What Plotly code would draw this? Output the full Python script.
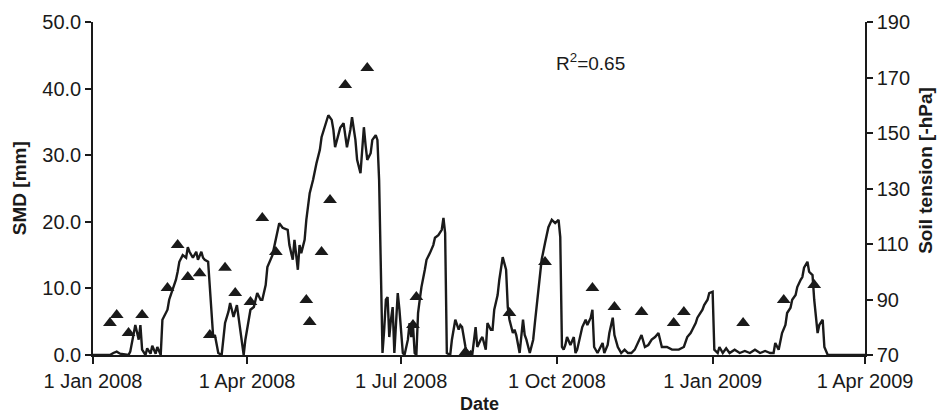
import pandas as pd
import plotly.graph_objects as go

# SMD line: day offset since 1 Jan 2008, SMD [mm]
smd_day = [0,10,12,14,16,21,22,24,25,27,28,29,31,32,34,35,37,38,40,41,44,45,47,49,50,51,53,55,56,57,59,61,62,64,65,66,68,69,70,71,72,73,74,76,77,78,80,81,82,83,85,86,87,89,90,92,93,95,96,97,99,100,102,103,106,108,109,110,112,115,116,118,119,121,122,123,125,126,128,130,132,134,135,137,139,141,142,143,145,146,148,149,150,152,153,155,156,158,159,160,161,162,164,165,167,168,169,170,171,172,173,174,175,176,177,178,180,181,183,184,186,187,188,189,190,191,192,193,194,196,197,199,201,202,204,206,207,208,209,211,212,214,216,217,218,220,221,223,224,226,227,229,230,232,233,235,236,237,239,240,242,244,245,246,248,249,250,252,254,255,256,258,260,261,263,264,265,267,269,271,273,275,276,277,278,279,280,282,284,285,286,289,291,292,294,295,296,298,299,301,302,304,305,307,308,310,312,314,316,318,320,322,324,326,328,330,332,334,336,339,342,346,349,351,353,354,356,357,360,361,363,364,366,367,369,370,372,374,376,379,382,385,388,391,394,397,400,402,403,405,407,409,410,412,413,415,416,418,419,420,422,423,425,426,428,429,431,432,434,456]
smd_mm = [0,0,0.3,0.5,0.2,0,0.5,3.0,4.5,2.3,4.5,0.8,0,1.0,0.2,1.4,0.2,1.2,0,5.3,6.8,8.3,9.8,11.3,12.5,14.0,15.0,14.6,16.2,15.5,14.6,15.5,14.3,15.5,14.6,14.3,14.0,9.8,5.3,2.7,3.0,1.5,0.3,0,2.3,4.8,6.5,7.8,6.8,5.7,7.5,5.6,3.0,0,2.3,5.3,6.8,7.2,8.3,9.3,8.3,8.3,10.5,13.2,15.0,17.3,18.5,19.8,19.1,18.8,16.5,14.3,17.3,12.8,16.5,15.3,17.3,20.3,24.3,26.3,28.8,30.8,32.7,34.5,36.0,35.3,33.8,31.2,33.3,34.1,34.8,33.0,31.2,33.8,35.7,32.3,29.3,27.3,30.8,34.2,31.5,29.3,30.3,32.3,33.0,32.3,26.3,12.8,0.3,3.8,8.3,8.7,2.7,5.3,7.2,0.3,9.3,6.8,0.3,0,2.3,4.8,2.7,4.5,0.3,0,6.3,8.3,10.2,12.8,14.3,15.3,16.5,17.6,18.0,18.8,20.6,18.3,0.3,0,2.3,5.3,3.8,4.5,4.2,1.2,0,0.5,0,4.2,1.2,2.3,2.7,0.8,4.8,3.8,3.8,6.8,9.0,11.3,14.7,12.8,7.2,5.3,3.3,3.8,3.0,0.3,5.3,3.0,2.3,0.3,2.3,4.8,9.8,12.0,14.3,16.8,19.2,20.3,19.8,20.3,17.7,1.2,0.8,1.5,2.7,1.5,2.7,0.3,0.8,4.2,5.3,4.5,5.6,6.8,1.2,0.3,0.8,1.8,0.3,1.5,3.3,5.6,3.0,1.2,0.3,0.8,0.3,0.3,0.8,1.8,3.0,1.2,1.5,2.3,2.7,3.3,1.2,1.2,0.8,0.8,1.2,2.7,3.3,3.8,4.8,5.6,6.8,7.5,8.3,9.3,9.5,0.8,0.3,1.2,0.3,1.0,0.3,0.8,0.3,0.6,0.3,0.8,0.3,0.6,0.3,0.3,1.8,0.8,3.3,4.5,6.3,7.1,8.3,9.0,10.2,11.3,11.7,13.1,14.0,12.5,12.0,8.3,3.3,4.5,5.3,1.2,0,0]

# Soil tension observations
tension_dates = ["2008-01-11","2008-01-15","2008-01-22","2008-01-30","2008-02-14","2008-02-20",
                 "2008-02-26","2008-03-04","2008-03-10","2008-03-19","2008-03-25","2008-04-03",
                 "2008-04-10","2008-04-18","2008-05-06","2008-05-08","2008-05-15","2008-05-20",
                 "2008-05-29","2008-06-11","2008-07-08","2008-07-10","2008-08-08","2008-09-03",
                 "2008-09-24","2008-10-22","2008-11-04","2008-11-20","2008-12-09","2008-12-15",
                 "2009-01-19","2009-02-12","2009-03-02"]
tension_hpa = [81.5,84.4,77.9,84.4,94.1,109.6,98.1,99.5,77.2,101.4,92.3,89.1,
               119.4,107.1,89.8,81.9,107.1,125.9,167.3,173.4,80.8,90.9,71.0,85.1,
               103.5,94.1,87.3,85.5,81.5,85.5,81.5,89.8,95.2]

tick_dates = ["2008-01-01","2008-04-01","2008-07-01","2008-10-01","2009-01-01","2009-04-01"]
tick_labels = ["1 Jan 2008","1 Apr 2008","1 Jul 2008","1 Oct 2008","1 Jan 2009","1 Apr 2009"]

start = pd.Timestamp("2008-01-01")
smd_dates = start + pd.to_timedelta(smd_day, unit="D")

FONT = "Liberation Sans, Arial, Helvetica, sans-serif"
ink = "#1a1a1a"

fig = go.Figure()
fig.add_trace(go.Scatter(x=smd_dates, y=smd_mm, mode="lines",
                         line=dict(color=ink, width=2.4), showlegend=False))
fig.add_trace(go.Scatter(x=pd.to_datetime(tension_dates), y=tension_hpa, mode="markers",
                         marker=dict(symbol="triangle-up", size=12, color=ink),
                         yaxis="y2", showlegend=False))

fig.update_layout(
    width=941, height=414,
    margin=dict(l=93, r=76, t=22, b=59, autoexpand=False),
    paper_bgcolor="white", plot_bgcolor="white",
    font=dict(family=FONT, size=20, color=ink),
    xaxis=dict(type="date", range=["2008-01-01", "2009-04-01"],
               tickvals=tick_dates, ticktext=tick_labels, automargin=False,
               showgrid=False, zeroline=False, showline=True, linecolor=ink, linewidth=1.5,
               ticks="outside", ticklen=7, tickcolor=ink, tickwidth=1.5,
               tickfont=dict(size=20)),
    yaxis=dict(range=[0, 50], dtick=10, tick0=0, tickformat=".1f", automargin=False,
               showgrid=False, zeroline=False, showline=True, linecolor=ink, linewidth=1.5,
               ticks="outside", ticklen=6, tickcolor=ink, tickwidth=1.5,
               tickfont=dict(size=20)),
    yaxis2=dict(range=[70, 190], dtick=20, tick0=70, overlaying="y", side="right",
                automargin=False,
                showgrid=False, zeroline=False, showline=True, linecolor=ink, linewidth=1.5,
                ticks="outside", ticklen=6, tickcolor=ink, tickwidth=1.5,
                tickfont=dict(size=20)),
    annotations=[
        dict(text="<b>SMD [mm]</b>", xref="paper", yref="paper", x=-0.095, y=0.5,
             xanchor="center", yanchor="middle",
             textangle=-90, showarrow=False, font=dict(size=19)),
        dict(text="<b>Soil tension [-hPa]</b>", xref="paper", yref="paper", x=1.079, y=0.556,
             xanchor="center", yanchor="middle",
             textangle=-90, showarrow=False, font=dict(size=19)),
        dict(text="<b>Date</b>", xref="paper", yref="paper", x=0.5, y=-0.147,
             xanchor="center", yanchor="middle",
             showarrow=False, font=dict(size=18)),
        dict(text="R<sup>2</sup>=0.65", xref="paper", yref="paper", x=0.644, y=0.88,
             xanchor="center", yanchor="middle",
             showarrow=False, font=dict(size=19)),
    ],
)

fig.write_html("out.html", config={"displayModeBar": False},
               post_script="document.body.style.margin='0';document.body.style.padding='0';")
